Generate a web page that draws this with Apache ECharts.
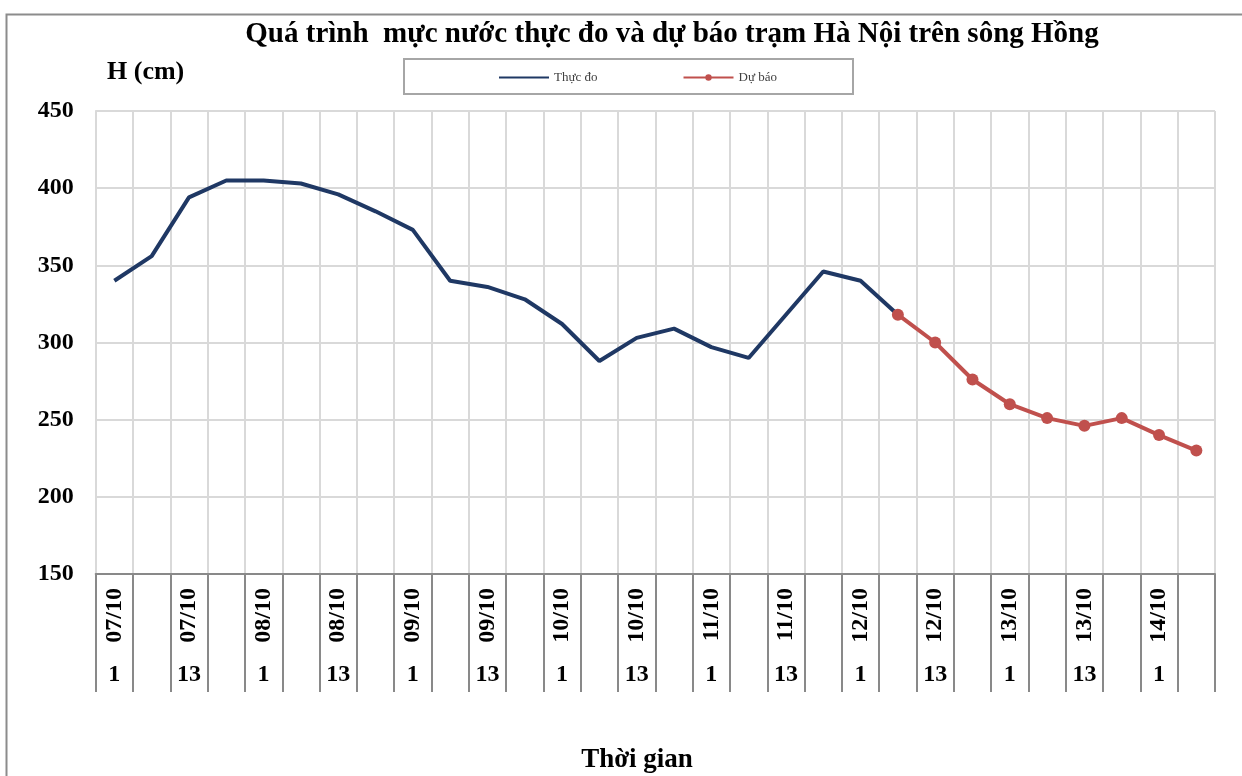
<!DOCTYPE html>
<html>
<head>
<meta charset="utf-8">
<script src="https://cdn.jsdelivr.net/npm/echarts@6/dist/echarts.min.js"></script>
<style>
  html, body { margin: 0; padding: 0; background: #fff; }
  #chart { width: 1242px; height: 776px; }
</style>
</head>
<body>
<div id="chart"></div>
<script>
// Category tick labels (6-hourly steps from 07/10 01h to 14/10 07h)
const dateLabels = ['07/10','', '07/10','', '08/10','', '08/10','', '09/10','', '09/10','', '10/10','', '10/10','',
                    '11/10','', '11/10','', '12/10','', '12/10','', '13/10','', '13/10','', '14/10',''];
const hourLabels = ['1','', '13','', '1','', '13','', '1','', '13','', '1','', '13','',
                    '1','', '13','', '1','', '13','', '1','', '13','', '1',''];
const categories = dateLabels.map((d, i) => i);

// Observed water level (cm)
const observed = [340, 356, 394, 405, 405, 403, 396, 385, 373, 340, 336, 328, 312, 288, 303, 309, 297, 290, 318, 346, 340, 318,
                  null, null, null, null, null, null, null, null];
// Forecast water level (cm)
const forecast = [null, null, null, null, null, null, null, null, null, null, null, null, null, null, null, null, null, null, null, null, null,
                  318, 300, 276, 260, 251, 246, 251, 240, 230];

const yTicks = { min: 150, max: 450, interval: 50 };

const FONT = '"Liberation Serif", "Times New Roman", serif';

const chart = echarts.init(document.getElementById('chart'), null, { renderer: 'canvas' });
chart.setOption({
  animation: false,
  backgroundColor: '#ffffff',
  graphic: [
    { type: 'rect', left: 4, top: 12, shape: { x: 0, y: 0, width: 1300, height: 820 },
      style: { fill: 'none', stroke: '#8c8c8c', lineWidth: 2 }, silent: true, z: -10 },
    { type: 'rect', left: 403, top: 58, shape: { x: 0, y: 0, width: 449, height: 35 },
      style: { fill: '#fff', stroke: '#a6a6a6', lineWidth: 2 }, silent: true, z: 0 },
    { type: 'text', x: 672, y: 35, style: { text: 'Quá trình  mực nước thực đo và dự báo trạm Hà Nội trên sông Hồng',
      font: 'bold 29px ' + FONT, fill: '#000', textAlign: 'center', textVerticalAlign: 'middle' } },
    { type: 'text', x: 107, y: 72, style: { text: 'H (cm)', font: 'bold 26px ' + FONT, fill: '#000',
      textAlign: 'left', textVerticalAlign: 'middle' } },
    { type: 'text', x: 637, y: 760, style: { text: 'Thời gian', font: 'bold 27px ' + FONT, fill: '#000',
      textAlign: 'center', textVerticalAlign: 'middle' } }
  ],
  legend: {
    left: 493, top: 66, z: 5,
    itemWidth: 50, itemHeight: 8, itemGap: 85,
    textStyle: { fontFamily: FONT, fontSize: 13, color: '#404040', padding: [0, 0, 0, 0] },
    data: [{ name: 'Thực đo', itemStyle: { opacity: 0 } }, 'Dự báo']
  },
  grid: { left: 95.7, right: 27, top: 111, bottom: 202, containLabel: false },
  xAxis: [
    {
      type: 'category', data: categories, boundaryGap: true,
      axisLine: { show: true, lineStyle: { color: '#898989', width: 2 } },
      axisTick: { show: true, interval: 0, length: 118, lineStyle: { color: '#898989', width: 2 } },
      axisLabel: { interval: 0, rotate: 90, margin: 14, fontFamily: FONT, fontSize: 24, fontWeight: 'bold', color: '#000',
        formatter: (v, i) => dateLabels[i] },
      splitLine: { show: true, interval: 0, lineStyle: { color: '#d9d9d9', width: 2 } }
    },
    {
      type: 'category', data: categories, boundaryGap: true, position: 'bottom',
      axisLine: { show: false }, axisTick: { show: false },
      axisLabel: { interval: 0, margin: 89, fontFamily: FONT, fontSize: 24, fontWeight: 'bold', color: '#000',
        formatter: (v, i) => hourLabels[i] },
      splitLine: { show: false }
    }
  ],
  yAxis: {
    type: 'value', min: yTicks.min, max: yTicks.max, interval: yTicks.interval,
    axisLine: { show: true, lineStyle: { color: '#d9d9d9', width: 2 } },
    axisTick: { show: false },
    axisLabel: { margin: 22, fontFamily: FONT, fontSize: 24, fontWeight: 'bold', color: '#000' },
    splitLine: { show: true, lineStyle: { color: '#d9d9d9', width: 2 } }
  },
  series: [
    {
      name: 'Thực đo', type: 'line', data: observed, symbol: 'none', z: 3,
      lineStyle: { color: '#1f3864', width: 4 }, itemStyle: { color: '#1f3864' }, connectNulls: false
    },
    {
      name: 'Dự báo', type: 'line', data: forecast, symbol: 'circle', symbolSize: 12, z: 4,
      lineStyle: { color: '#c0504d', width: 4 }, itemStyle: { color: '#c0504d' }, connectNulls: false
    }
  ]
});
</script>
</body>
</html>
